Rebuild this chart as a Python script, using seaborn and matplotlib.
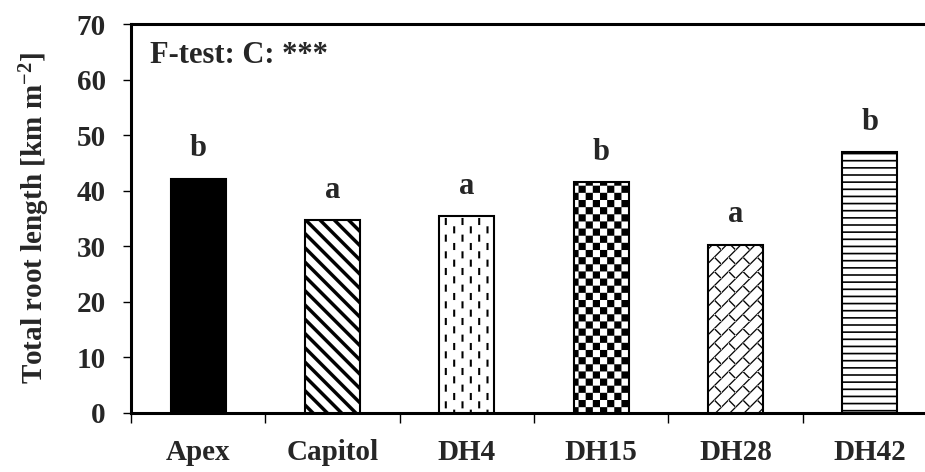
import warnings
warnings.filterwarnings("ignore")
import numpy as np
import pandas as pd
import matplotlib
matplotlib.use("Agg")
import matplotlib.pyplot as plt
import matplotlib.hatch as mhatch
from matplotlib.path import Path
import seaborn as sns

# ---------------- data ----------------
cultivars = ["Apex", "Capitol", "DH4", "DH15", "DH28", "DH42"]
root_length = [42.2, 34.7, 35.4, 41.6, 30.3, 46.9]
letters = ["b", "a", "a", "b", "a", "b"]
ftest_label = "F-test: C: ***"
y_ticks = [0, 10, 20, 30, 40, 50, 60, 70]

# ---------------- custom hatch patterns (filled polygons in unit tile) ----------------
def _rect(x0, y0, x1, y1):
    return [(x0, y0), (x1, y0), (x1, y1), (x0, y1)]

def pat_backslash():
    n, w = 7, 0.024
    polys = []
    for k in range(-n, n + 1):
        c = k / n
        polys.append([(c - w, 1), (c + w, 1), (c + 1 + w, 0), (c + 1 - w, 0)])
    return polys

def pat_dashes():
    ncol, nrow, hw, ln = 12, 6, 0.010, 0.07
    polys = []
    for i in range(ncol):
        x = (i + 0.5) / ncol
        off = (i % 2) * 0.5 / nrow
        for j in range(-1, nrow + 1):
            y0 = j / nrow + off
            polys.append(_rect(x - hw, y0, x + hw, y0 + ln))
    return polys

def pat_checker():
    n = 14
    polys = []
    for i in range(n):
        for j in range(n):
            if (i + j) % 2 == 0:
                polys.append(_rect(i / n, j / n, (i + 1) / n, (j + 1) / n))
    return polys

def pat_brick():
    n, w, h = 7, 0.0085, 0.0045
    L = 1 / 7
    d = 1 / (2 * n)
    polys = []
    for k in range(-n - 1, n + 2):
        c = k / n
        polys.append([(c - w, 0), (c + w, 0), (c + 1 + w, 1), (c + 1 - w, 1)])
        for j in range(-8, 16):
            s = j * L
            px, py = c + s, s
            qx, qy = px + d, py - d
            polys.append([(px - h, py - h), (px + h, py + h),
                          (qx + h, qy + h), (qx - h, qy - h)])
    return polys

def pat_hlines():
    n, hw = 14, 0.008
    return [_rect(-0.01, (j + 0.5) / n - hw, 1.01, (j + 0.5) / n + hw) for j in range(n)]

_PATTERNS = {"g": pat_backslash, "d": pat_dashes, "c": pat_checker,
             "k": pat_brick, "h": pat_hlines}


class PolyHatch(mhatch.HatchPatternBase):
    def __init__(self, hatch, density):
        self.polys = []
        for ch, fn in _PATTERNS.items():
            if ch in hatch:
                self.polys.extend(fn())
        self.num_vertices = sum(len(p) + 1 for p in self.polys)

    def set_vertices_and_codes(self, vertices, codes):
        i = 0
        for p in self.polys:
            m = len(p)
            vertices[i:i + m] = p
            vertices[i + m] = p[0]
            codes[i] = Path.MOVETO
            codes[i + 1:i + m] = Path.LINETO
            codes[i + m] = Path.CLOSEPOLY
            i += m + 1


mhatch._hatch_types.append(PolyHatch)

# ---------------- style ----------------
sns.set_theme(style="white")
plt.rcParams["font.family"] = ["Liberation Serif", "DejaVu Serif"]
plt.rcParams["font.weight"] = "bold"
plt.rcParams["hatch.linewidth"] = 0.05
plt.rcParams["hatch.color"] = "black"

fig = plt.figure(figsize=(9.25, 4.72), dpi=100)
ax = fig.add_axes([131 / 925, 1 - 412.7 / 472, 806 / 925, (412.7 - 24.3) / 472])

df = pd.DataFrame({"cultivar": cultivars, "length": root_length})
sns.barplot(data=df, x="cultivar", y="length", color="white", edgecolor="black",
            linewidth=1.5, width=0.41, saturation=1, ax=ax, zorder=3)

hatches = [None, "g", "d", "c", "k", "h"]
for patch, hp in zip(ax.patches, hatches):
    if hp is None:
        patch.set_facecolor("black")
    else:
        patch.set_facecolor("white")
        patch.set_hatch(hp)
    patch.set_edgecolor("black")

for i, (v, lt) in enumerate(zip(root_length, letters)):
    ax.text(i, v + 4.0, lt, ha="center", va="baseline", fontsize=22,
            fontweight="bold")

ax.text(0.024, 63.0, ftest_label, transform=ax.get_yaxis_transform(),
        ha="left", va="baseline", fontsize=22, fontweight="bold")

ax.set_xlim(-0.5, len(cultivars) - 0.5)
ax.set_ylim(0, 70)
ax.set_yticks(y_ticks)
ax.set_yticklabels([str(t) for t in y_ticks], fontsize=21, fontweight="bold")
ax.set_xticks(range(len(cultivars)))
ax.set_xticklabels(cultivars, fontsize=21, fontweight="bold")
ax.set_xticks(np.arange(-0.5, len(cultivars), 1.0), minor=True)
ax.tick_params(axis="x", which="major", length=0, pad=19)
ax.tick_params(axis="x", which="minor", length=7, width=1, direction="out",
               bottom=True, color="black")
ax.tick_params(axis="y", which="major", length=6, width=1, direction="out",
               left=True, pad=12, color="black")
ax.set_xlabel("")
ax.set_ylabel(r"Total root length [km m$\mathregular{^{-2}}$]", fontsize=21,
              fontweight="bold", labelpad=18)

for side in ["left", "top", "bottom"]:
    ax.spines[side].set_visible(True)
    ax.spines[side].set_color("black")
    ax.spines[side].set_linewidth(2.2)
ax.spines["right"].set_visible(False)
ax.grid(False)

fig.savefig("out.png", dpi=100)
